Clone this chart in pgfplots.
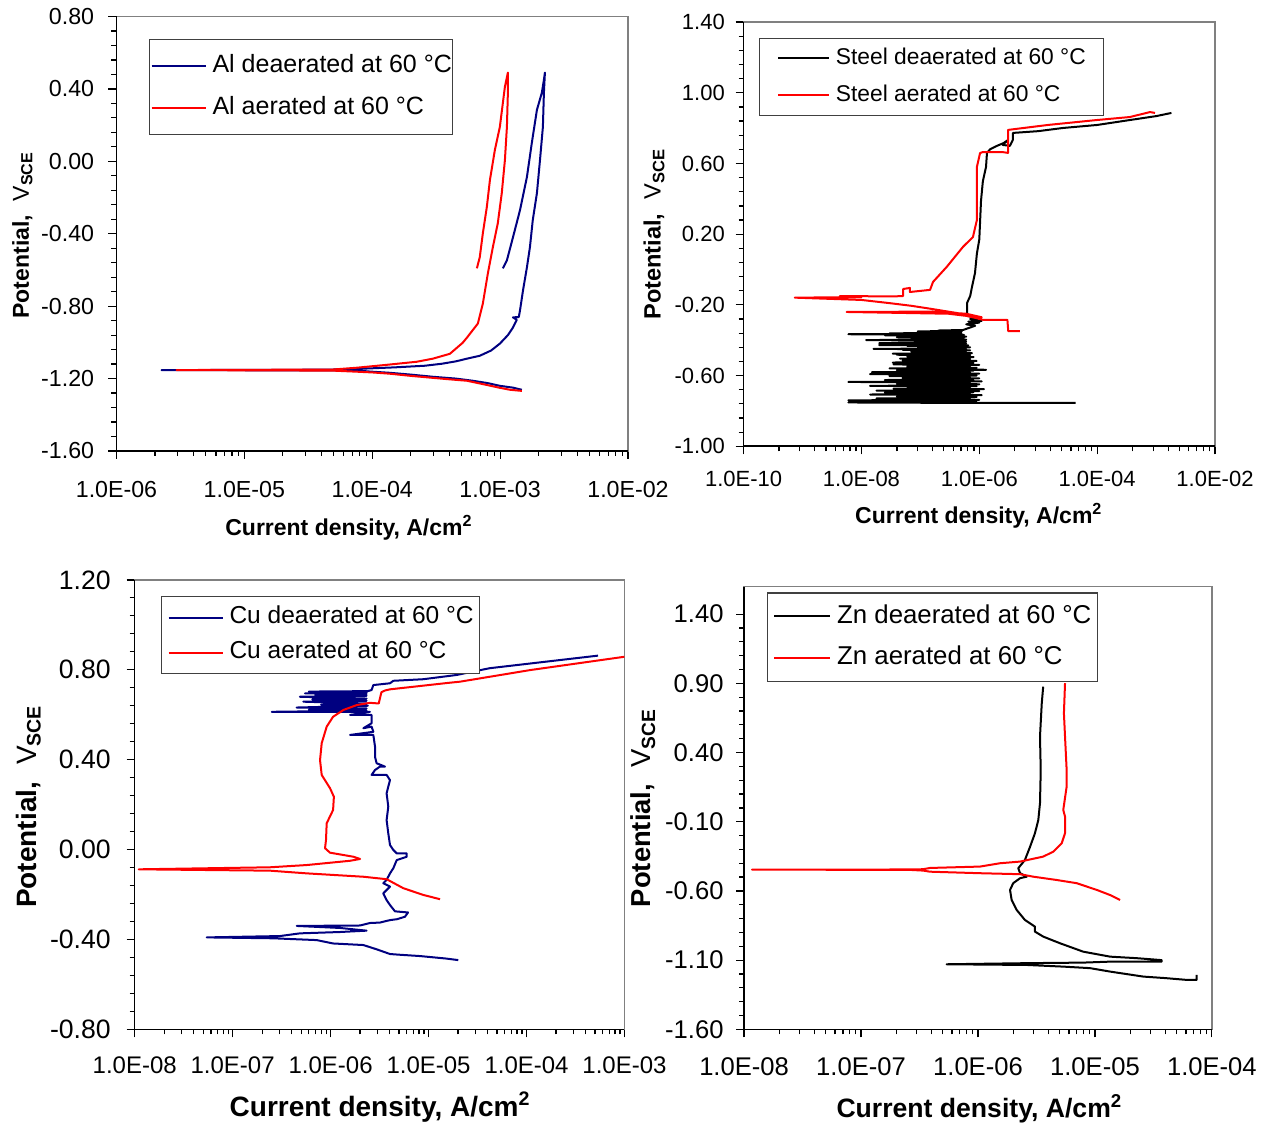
\documentclass[border=0pt]{standalone}
\usepackage{pgfplots}
\pgfplotsset{compat=1.18}
\usepackage{fontspec}
\setmainfont{Liberation Sans}
\definecolor{navyb}{RGB}{0,0,128}
\definecolor{redc}{RGB}{255,0,0}
\newcommand{\ylab}{\textbf{Potential,}\hspace{0.6em}V\textsubscript{\textbf{SCE}}}
\newcommand{\xlab}{\textbf{Current density, A/cm\textsuperscript{2}}}
\begin{document}
\begin{tikzpicture}
\path[use as bounding box] (0,0) rectangle (634.5pt,563pt);
% ---------------- Panel 1: Al ----------------
\pgfplotsset{legend image code/.code={\path (0pt,0pt) -- (3pt,0pt); \draw[#1] (3pt,0pt) -- (27pt,0pt);}}
\begin{axis}[xmode=log, scale only axis, anchor=south west,
  axis line style={draw=gray, line width=0.7pt},
  tick align=outside, tick pos=left, major tick length=4pt, minor tick length=2.5pt,
  tick style={black, line width=0.6pt}, minor y tick num=4, legend cell align=left,
  after end axis/.code={\draw[black, line width=0.8pt] (rel axis cs:0,1) -- (rel axis cs:0,0) -- (rel axis cs:1,0);},
  at={(58.25pt,337.5pt)}, width=255.75pt, height=217.25pt,
  xmin=1e-6, xmax=1e-2, ymin=-1.6, ymax=0.8,
  xtick={1e-6,1e-5,1e-4,1e-3,1e-2},
  xticklabels={1.0E-06,1.0E-05,1.0E-04,1.0E-03,1.0E-02},
  minor xtick={2e-6,3e-6,4e-6,5e-6,6e-6,7e-6,8e-6,9e-6,2e-5,3e-5,4e-5,5e-5,6e-5,7e-5,8e-5,9e-5,2e-4,3e-4,4e-4,5e-4,6e-4,7e-4,8e-4,9e-4,2e-3,3e-3,4e-3,5e-3,6e-3,7e-3,8e-3,9e-3},
  ytick={-1.6,-1.2,-0.8,-0.4,0,0.4,0.8},
  yticklabels={-1.60,-1.20,-0.80,-0.40,0.00,0.40,0.80},
  tick label style={font=\fontsize{11.6}{13}\selectfont},
  xticklabel style={anchor=center, yshift=-15.1pt},
  yticklabel style={anchor=east, inner sep=0pt, xshift=-7pt},
  xlabel={\xlab}, ylabel={\ylab},
  xlabel style={at={(axis description cs:0.4545,-0.177)}, anchor=center, font=\fontsize{11.5}{13}\selectfont},
  ylabel style={at={(axis description cs:-0.184,0.497)}, anchor=center, font=\fontsize{11.5}{13}\selectfont},
  legend style={at={(axis description cs:0.0635,0.949)}, anchor=north west, draw=black!75, line width=0.6pt,
    inner xsep=0.5pt, inner ysep=7.4pt, row sep=9.8pt, column sep=3pt,
    font=\fontsize{12.5}{14}\selectfont, nodes={inner sep=0pt, text height=9pt, text depth=2.6pt}},
]
\addplot[navyb, line width=1pt, no markers, line join=round] coordinates {(1.48e-3,-1.262) (1.26e-3,-1.250) (9.95e-4,-1.240) (8.0e-4,-1.225) (6.12e-4,-1.212) (4.5e-4,-1.200) (2.98e-4,-1.190) (2.0e-4,-1.178) (1.37e-4,-1.168) (1.0e-4,-1.162) (7.98e-5,-1.157) (4.91e-5,-1.155) (2.25e-6,-1.153) (2e-5,-1.152) (4.91e-5,-1.150) (7.98e-5,-1.146) (1.5e-4,-1.138) (2.58e-4,-1.129) (3.5e-4,-1.118) (4.5e-4,-1.105) (5.50e-4,-1.090) (6.93e-4,-1.074) (8.5e-4,-1.045) (9.95e-4,-1.007) (1.15e-3,-0.960) (1.26e-3,-0.918) (1.35e-3,-0.875) (1.26e-3,-0.862) (1.40e-3,-0.860) (1.43e-3,-0.824) (1.51e-3,-0.713) (1.62e-3,-0.586) (1.71e-3,-0.475) (1.80e-3,-0.325) (1.94e-3,-0.176) (2.05e-3,0.007) (2.16e-3,0.190) (2.20e-3,0.379) (2.24e-3,0.49) (2.20e-3,0.45) (2.12e-3,0.379) (1.94e-3,0.284) (1.77e-3,0.102) (1.62e-3,-0.087) (1.43e-3,-0.270) (1.26e-3,-0.420) (1.13e-3,-0.547) (1.05e-3,-0.591)};
\addlegendentry{Al deaerated at 60 °C}
\addplot[redc, line width=1pt, no markers, line join=round] coordinates {(1.48e-3,-1.268) (1.2e-3,-1.262) (9.95e-4,-1.251) (7.5e-4,-1.232) (5.50e-4,-1.212) (4.0e-4,-1.204) (2.98e-4,-1.196) (2.0e-4,-1.185) (1.37e-4,-1.173) (1.0e-4,-1.166) (7.57e-5,-1.162) (4.91e-5,-1.156) (2.95e-6,-1.153) (2e-5,-1.151) (4.91e-5,-1.150) (7.57e-5,-1.140) (1.30e-4,-1.124) (2.23e-4,-1.107) (2.98e-4,-1.090) (4.05e-4,-1.063) (5.10e-4,-1.002) (5.50e-4,-0.974) (6.70e-4,-0.896) (7.33e-4,-0.785) (8.02e-4,-0.619) (8.77e-4,-0.475) (9.59e-4,-0.342) (1.03e-3,-0.176) (1.09e-3,0.007) (1.13e-3,0.190) (1.15e-3,0.379) (1.15e-3,0.49) (1.09e-3,0.412) (9.95e-4,0.190) (9.10e-4,0.063) (8.32e-4,-0.104) (7.87e-4,-0.253) (7.33e-4,-0.397) (6.93e-4,-0.530) (6.58e-4,-0.591)};
\addlegendentry{Al aerated at 60 °C}
\end{axis}
% ---------------- Panel 2: Steel ----------------
\pgfplotsset{legend image code/.code={\path (0pt,0pt) -- (3.85pt,0pt); \draw[#1] (3.85pt,0pt) -- (25.5pt,0pt);}}
\begin{axis}[xmode=log, scale only axis, anchor=south west,
  axis line style={draw=gray, line width=0.7pt},
  tick align=outside, tick pos=left, major tick length=4pt, minor tick length=2.5pt,
  tick style={black, line width=0.6pt}, minor y tick num=4, legend cell align=left,
  after end axis/.code={\draw[black, line width=0.8pt] (rel axis cs:0,1) -- (rel axis cs:0,0) -- (rel axis cs:1,0);},
  at={(371.8pt,339.85pt)}, width=235.7pt, height=212.1pt,
  xmin=1e-10, xmax=1e-2, ymin=-1.0, ymax=1.4,
  xtick={1e-10,1e-8,1e-6,1e-4,1e-2},
  xticklabels={1.0E-10,1.0E-08,1.0E-06,1.0E-04,1.0E-02},
  minor xtick={4e-10,9e-10,1.6e-9,2.5e-9,3.6e-9,4.9e-9,6.4e-9,8.1e-9,4e-8,9e-8,1.6e-7,2.5e-7,3.6e-7,4.9e-7,6.4e-7,8.1e-7,4e-6,9e-6,1.6e-5,2.5e-5,3.6e-5,4.9e-5,6.4e-5,8.1e-5,4e-4,9e-4,1.6e-3,2.5e-3,3.6e-3,4.9e-3,6.4e-3,8.1e-3},
  ytick={-1.0,-0.6,-0.2,0.2,0.6,1.0,1.4},
  yticklabels={-1.00,-0.60,-0.20,0.20,0.60,1.00,1.40},
  tick label style={font=\fontsize{11}{13}\selectfont},
  xticklabel style={anchor=center, yshift=-12.4pt},
  yticklabel style={anchor=east, inner sep=0pt, xshift=-5.2pt},
  xlabel={\xlab}, ylabel={\ylab},
  xlabel style={at={(axis description cs:0.499,-0.164)}, anchor=center, font=\fontsize{11.5}{13}\selectfont},
  ylabel style={at={(axis description cs:-0.190,0.5)}, anchor=center, font=\fontsize{11.8}{13}\selectfont},
  legend style={at={(axis description cs:0.032,0.963)}, anchor=north west, draw=black!75, line width=0.6pt,
    inner xsep=9pt, inner ysep=4.7pt, row sep=7.85pt, column sep=2.8pt,
    font=\fontsize{11.4}{13}\selectfont, nodes={inner sep=0pt, text height=8.2pt, text depth=2.4pt}},
]
\addplot[black, line width=1pt, no markers, line join=round] coordinates {(4.3e-5,-0.755) (2e-6,-0.755) (1.15e-6,-0.755)
(6.0e-9,-0.752) (9e-7,-0.749) (3.0e-8,-0.746) (6e-7,-0.743) (6.0e-9,-0.740) (1.0e-6,-0.737) (8e-8,-0.735) (7e-7,-0.732)
(1.8e-8,-0.729) (5.5e-7,-0.726) (1.0e-7,-0.724) (9e-7,-0.721) (4e-8,-0.718) (6e-7,-0.715) (1.2e-7,-0.713) (1.1e-6,-0.710)
(1.4e-8,-0.707) (7e-7,-0.704) (7e-8,-0.702) (5e-7,-0.699) (2.5e-8,-0.696) (8e-7,-0.693) (1.5e-7,-0.691) (1.0e-6,-0.688)
(1.8e-8,-0.685) (6e-7,-0.682) (9e-8,-0.680) (1.2e-6,-0.677) (3.5e-8,-0.674) (7e-7,-0.671) (1.1e-7,-0.669) (5.5e-7,-0.666)
(6e-8,-0.663) (9e-7,-0.660) (1.4e-8,-0.658) (6e-7,-0.655) (8e-8,-0.652) (1.0e-6,-0.649) (4e-8,-0.647) (7e-7,-0.644)
(1.3e-7,-0.641) (5e-7,-0.638) (6.0e-9,-0.636) (1.1e-6,-0.633) (7e-8,-0.630) (8e-7,-0.627) (2.5e-8,-0.625) (6e-7,-0.622)
(1.0e-7,-0.619) (1.0e-6,-0.616) (5e-8,-0.614) (7e-7,-0.611) (1.5e-7,-0.608) (5.5e-7,-0.605) (3e-8,-0.603) (9e-7,-0.600)
(9e-8,-0.597) (6e-7,-0.594) (1.4e-8,-0.592) (1.0e-6,-0.589) (7e-8,-0.586) (7e-7,-0.583) (1.5e-8,-0.581) (5e-7,-0.578)
(1.1e-7,-0.575) (8e-7,-0.572) (4e-8,-0.570) (1.3e-6,-0.567) (8e-8,-0.564) (6e-7,-0.561) (3e-8,-0.559) (9e-7,-0.556)
(1.2e-7,-0.553) (5.5e-7,-0.550) (6e-8,-0.548) (7e-7,-0.545) (1.5e-7,-0.542) (1.0e-6,-0.539) (3.5e-8,-0.537) (6e-7,-0.534)
(9e-8,-0.531) (8e-7,-0.528) (3.4e-8,-0.526) (5e-7,-0.523) (1.2e-7,-0.520) (9e-7,-0.517) (5e-8,-0.515) (6e-7,-0.512)
(1.4e-7,-0.509) (7e-7,-0.506) (4.5e-8,-0.504) (5.5e-7,-0.501) (1.0e-7,-0.498) (8e-7,-0.495) (6e-8,-0.493) (6e-7,-0.490)
(1.5e-7,-0.487) (7e-7,-0.484) (4e-8,-0.482) (5e-7,-0.479) (3.4e-8,-0.476) (7.5e-7,-0.473) (1.1e-7,-0.471) (6e-7,-0.468)
(7e-8,-0.465) (5e-7,-0.462) (1.3e-7,-0.460) (7e-7,-0.457) (5e-8,-0.454) (6e-7,-0.451) (1.6e-8,-0.449) (5.5e-7,-0.446)
(9e-8,-0.443) (7e-7,-0.440) (1.4e-7,-0.438) (5e-7,-0.435) (6e-8,-0.432) (6.5e-7,-0.429) (2e-8,-0.427) (5e-7,-0.424)
(1.2e-7,-0.421) (6e-7,-0.418) (2e-8,-0.416) (5.5e-7,-0.413) (8e-8,-0.410) (6e-7,-0.407) (1.5e-7,-0.405) (5e-7,-0.402)
(1.2e-8,-0.399) (6e-7,-0.396) (7e-8,-0.394) (5e-7,-0.391) (1.3e-7,-0.388) (5.5e-7,-0.385) (4e-8,-0.383) (6e-7,-0.380)
(1.0e-7,-0.377) (5e-7,-0.374) (2.5e-8,-0.372) (5.5e-7,-0.369) (6.0e-9,-0.366) (5e-7,-0.363) (3e-8,-0.361) (4.5e-7,-0.358)
(1.3e-7,-0.355) (5e-7,-0.352) (9e-8,-0.350) (4.5e-7,-0.347) (2e-7,-0.345) (5.3e-7,-0.342)
(8.5e-7,-0.318) (6e-7,-0.310) (1.0e-6,-0.300) (6.5e-7,-0.295) (1.1e-6,-0.290) (7.0e-7,-0.280) (9.0e-7,-0.272) (6.2e-7,-0.262) (6.2e-7,-0.189) (7.0e-7,-0.150) (7.5e-7,-0.100) (8.45e-7,-0.020) (9.1e-7,0.09) (1.0e-6,0.17) (1.07e-6,0.39) (1.15e-6,0.50) (1.30e-6,0.58) (1.35e-6,0.66) (1.52e-6,0.68) (2.0e-6,0.70) (2.6e-6,0.716) (3.07e-6,0.733) (2.5e-6,0.705) (3.3e-6,0.700) (3.7e-6,0.733) (3.73e-6,0.773) (1.0e-5,0.783) (2.63e-5,0.801) (1.0e-4,0.818) (3.6e-4,0.846) (1.0e-3,0.868) (1.82e-3,0.886)};
\addlegendentry{Steel deaerated at 60 °C}
\addplot[redc, line width=1pt, no markers, line join=round] coordinates {(4.9e-6,-0.348) (3.1e-6,-0.348) (3.0e-6,-0.285) (1.17e-6,-0.285) (9.0e-7,-0.275) (6.0e-7,-0.262) (3.0e-7,-0.250) (5.6e-9,-0.240) (1.5e-7,-0.238) (6.0e-7,-0.250) (1.1e-6,-0.270) (8.0e-7,-0.262) (4.0e-7,-0.245) (1.5e-7,-0.222) (7.0e-8,-0.205) (3.0e-8,-0.190) (1.0e-8,-0.172) (7.4e-10,-0.159) (1.0e-8,-0.156) (4.3e-9,-0.150) (3.4e-8,-0.152) (5.1e-8,-0.150) (5.1e-8,-0.110) (6.65e-8,-0.104) (6.65e-8,-0.127) (1.46e-7,-0.115) (1.64e-7,-0.070) (2.8e-7,0.015) (5.28e-7,0.128) (7.8e-7,0.184) (9.1e-7,0.28) (9.1e-7,0.58) (1.03e-6,0.659) (1.15e-6,0.665) (2.43e-6,0.665) (3.07e-6,0.660) (3.07e-6,0.790) (1.46e-5,0.818) (9.9e-5,0.846) (3.6e-4,0.863) (7.9e-4,0.891) (9.6e-4,0.886)};
\addlegendentry{Steel aerated at 60 °C}
\end{axis}
% ---------------- Panel 3: Cu ----------------
\pgfplotsset{legend image code/.code={\path (0pt,0pt) -- (3.75pt,0pt); \draw[#1] (3.75pt,0pt) -- (27.2pt,0pt);}}
\begin{axis}[xmode=log, scale only axis, anchor=south west,
  axis line style={draw=gray, line width=0.7pt},
  tick align=outside, tick pos=left, major tick length=4pt, minor tick length=2.5pt,
  tick style={black, line width=0.6pt}, minor y tick num=4, legend cell align=left,
  after end axis/.code={\draw[black, line width=0.8pt] (rel axis cs:0,1) -- (rel axis cs:0,0) -- (rel axis cs:1,0);},
  at={(67.35pt,48.35pt)}, width=244.9pt, height=224.7pt,
  xmin=1e-8, xmax=1e-3, ymin=-0.8, ymax=1.2,
  xtick={1e-8,1e-7,1e-6,1e-5,1e-4,1e-3},
  xticklabels={1.0E-08,1.0E-07,1.0E-06,1.0E-05,1.0E-04,1.0E-03},
  minor xtick={2e-8,3e-8,4e-8,5e-8,6e-8,7e-8,8e-8,9e-8,2e-7,3e-7,4e-7,5e-7,6e-7,7e-7,8e-7,9e-7,2e-6,3e-6,4e-6,5e-6,6e-6,7e-6,8e-6,9e-6,2e-5,3e-5,4e-5,5e-5,6e-5,7e-5,8e-5,9e-5,2e-4,3e-4,4e-4,5e-4,6e-4,7e-4,8e-4,9e-4},
  ytick={-0.8,-0.4,0,0.4,0.8,1.2},
  yticklabels={-0.80,-0.40,0.00,0.40,0.80,1.20},
  xticklabel style={anchor=center, yshift=-14.2pt, font=\fontsize{12}{14}\selectfont},
  yticklabel style={anchor=east, inner sep=0pt, xshift=-7.8pt, font=\fontsize{13.3}{15}\selectfont},
  xlabel={\xlab}, ylabel={\ylab},
  xlabel style={at={(axis description cs:0.501,-0.173)}, anchor=center, font=\fontsize{14}{16}\selectfont},
  ylabel style={at={(axis description cs:-0.217,0.496)}, anchor=center, font=\fontsize{14}{16}\selectfont},
  legend style={at={(axis description cs:0.054,0.964)}, anchor=north west, draw=black!75, line width=0.6pt,
    inner xsep=3pt, inner ysep=4.8pt, row sep=6.1pt, column sep=2.7pt,
    font=\fontsize{12.25}{14}\selectfont, nodes={inner sep=0pt, text height=8.8pt, text depth=2.6pt}},
]
\addplot[navyb, line width=1pt, no markers, line join=round] coordinates {(2.01e-5,-0.492) (1.5e-5,-0.485) (8.17e-6,-0.474) (5e-6,-0.468) (4.04e-6,-0.465) (2.95e-6,-0.444) (2.16e-6,-0.425) (1.06e-6,-0.418) (7.21e-7,-0.403) (2.60e-7,-0.395) (5.43e-8,-0.391) (3.04e-7,-0.385) (4.86e-7,-0.373) (1.25e-6,-0.367) (2.33e-6,-0.361) (1.25e-6,-0.349) (4.51e-7,-0.340) (2.0e-6,-0.338) (2.52e-6,-0.327) (3.19e-6,-0.325) (4.04e-6,-0.314) (4.76e-6,-0.310) (5.74e-6,-0.299) (6.17e-6,-0.280) (4.54e-6,-0.275) (4.04e-6,-0.247) (3.73e-6,-0.225) (3.45e-6,-0.195) (4.04e-6,-0.165) (3.45e-6,-0.150) (3.73e-6,-0.135) (4.04e-6,-0.106) (4.37e-6,-0.083) (4.73e-6,-0.047) (5.98e-6,-0.032) (5.98e-6,-0.017) (4.73e-6,-0.017) (4.37e-6,-0.002) (4.04e-6,0.020) (3.88e-6,0.072) (3.73e-6,0.131) (3.88e-6,0.191) (3.73e-6,0.250) (3.88e-6,0.280) (4.04e-6,0.309) (3.73e-6,0.332) (2.62e-6,0.332) (2.84e-6,0.354) (3.19e-6,0.369) (3.59e-6,0.369) (2.95e-6,0.384) (2.84e-6,0.413) (2.84e-6,0.458) (2.73e-6,0.510) (1.58e-6,0.510) (2.73e-6,0.524) (2.62e-6,0.547) (2.16e-6,0.540) (2.62e-6,0.562) (2.62e-6,0.599) (1.58e-6,0.599) (2.52e-6,0.613) (2.51e-7,0.613) (2.33e-6,0.618) (6.0e-7,0.622) (2.33e-6,0.628) (4.5e-7,0.632) (2.4e-6,0.640) (8e-7,0.645) (2.33e-6,0.650) (5.26e-7,0.658) (2.33e-6,0.662) (6.5e-7,0.668) (2.33e-6,0.672) (4.86e-7,0.680) (2.33e-6,0.684) (7e-7,0.688) (2.33e-6,0.692) (5.47e-7,0.695) (2.33e-6,0.699) (6e-7,0.703) (2.4e-6,0.705) (2.62e-6,0.710) (2.73e-6,0.732) (4.04e-6,0.740) (4.37e-6,0.751) (8.83e-6,0.758) (1.94e-5,0.777) (4.2e-5,0.807) (5.37e-4,0.863)};
\addlegendentry{Cu deaerated at 60 °C}
\addplot[redc, line width=1pt, no markers, line join=round] coordinates {(1.31e-5,-0.221) (8.83e-6,-0.202) (5.52e-6,-0.172) (3.73e-6,-0.132) (2.16e-6,-0.121) (5.70e-7,-0.106) (2.40e-7,-0.094) (1.10e-8,-0.088) (2.40e-7,-0.079) (5.70e-7,-0.069) (1.58e-6,-0.050) (2.0e-6,-0.042) (1.71e-6,-0.032) (9.86e-7,-0.014) (8.77e-7,0.006) (8.97e-7,0.042) (9.12e-7,0.117) (1.06e-6,0.176) (1.08e-6,0.235) (9.86e-7,0.273) (8.11e-7,0.332) (7.80e-7,0.398) (8.11e-7,0.473) (9.12e-7,0.547) (1.06e-6,0.591) (1.35e-6,0.621) (1.85e-6,0.643) (2.52e-6,0.653) (3.1e-6,0.650) (3.3e-6,0.700) (3.6e-6,0.708) (4.04e-6,0.713) (1.61e-5,0.742) (2.09e-5,0.747) (1.10e-4,0.799) (1e-3,0.858)};
\addlegendentry{Cu aerated at 60 °C}
\end{axis}
% ---------------- Panel 4: Zn ----------------
\pgfplotsset{legend image code/.code={\path (0pt,0pt) -- (4.15pt,0pt); \draw[#1] (4.15pt,0pt) -- (28.15pt,0pt);}}
\begin{axis}[xmode=log, scale only axis, anchor=south west,
  axis line style={draw=gray, line width=0.7pt},
  tick align=outside, tick pos=left, major tick length=4pt, minor tick length=2.5pt,
  tick style={black, line width=0.6pt}, minor y tick num=4, legend cell align=left,
  after end axis/.code={\draw[black, line width=0.8pt] (rel axis cs:0,1) -- (rel axis cs:0,0) -- (rel axis cs:1,0);},
  at={(372.05pt,48.35pt)}, width=233.9pt, height=221.4pt,
  xmin=1e-8, xmax=1e-4, ymin=-1.6, ymax=1.6,
  xtick={1e-8,1e-7,1e-6,1e-5,1e-4},
  xticklabels={1.0E-08,1.0E-07,1.0E-06,1.0E-05,1.0E-04},
  minor xtick={2e-8,3e-8,4e-8,5e-8,6e-8,7e-8,8e-8,9e-8,2e-7,3e-7,4e-7,5e-7,6e-7,7e-7,8e-7,9e-7,2e-6,3e-6,4e-6,5e-6,6e-6,7e-6,8e-6,9e-6,2e-5,3e-5,4e-5,5e-5,6e-5,7e-5,8e-5,9e-5},
  ytick={-1.6,-1.1,-0.6,-0.1,0.4,0.9,1.4},
  yticklabels={-1.60,-1.10,-0.60,-0.10,0.40,0.90,1.40},
  tick label style={font=\fontsize{12.8}{15}\selectfont},
  xticklabel style={anchor=center, yshift=-14.6pt},
  yticklabel style={anchor=east, inner sep=0pt, xshift=-6.1pt},
  xlabel={\xlab}, ylabel={\ylab},
  xlabel style={at={(axis description cs:0.503,-0.179)}, anchor=center, font=\fontsize{13.3}{15}\selectfont},
  ylabel style={at={(axis description cs:-0.216,0.5)}, anchor=center, font=\fontsize{13.7}{15}\selectfont},
  legend style={at={(axis description cs:0.048,0.9865)}, anchor=north west, draw=black!75, line width=0.6pt,
    inner xsep=3pt, inner ysep=5.7pt, row sep=8.8pt, column sep=2.85pt,
    font=\fontsize{12.9}{15}\selectfont, nodes={inner sep=0pt, text height=9.3pt, text depth=2.7pt}},
]
\addplot[black, line width=1pt, no markers, line join=round] coordinates {(7.41e-5,-1.207) (7.41e-5,-1.243) (6.10e-5,-1.243) (4.0e-5,-1.230) (2.59e-5,-1.219) (1.35e-5,-1.183) (9.08e-6,-1.158) (5.36e-6,-1.147) (2.61e-6,-1.135) (5.40e-7,-1.130) (2.61e-6,-1.122) (7.94e-6,-1.118) (1.35e-5,-1.111) (3.72e-5,-1.111) (3.72e-5,-1.100) (2.28e-5,-1.086) (1.35e-5,-1.075) (7.94e-6,-1.039) (5.02e-6,-0.978) (3.61e-6,-0.930) (3.07e-6,-0.894) (3.07e-6,-0.858) (2.52e-6,-0.810) (2.14e-6,-0.737) (1.94e-6,-0.665) (1.88e-6,-0.593) (2.0e-6,-0.544) (2.29e-6,-0.508) (2.61e-6,-0.497) (2.29e-6,-0.472) (2.21e-6,-0.436) (2.52e-6,-0.376) (2.79e-6,-0.280) (3.07e-6,-0.183) (3.28e-6,-0.087) (3.39e-6,0.034) (3.44e-6,0.274) (3.39e-6,0.515) (3.51e-6,0.756) (3.61e-6,0.876)};
\addlegendentry{Zn deaerated at 60 °C}
\addplot[redc, line width=1pt, no markers, line join=round] coordinates {(1.64e-5,-0.665) (1.35e-5,-0.630) (1.04e-5,-0.593) (6.98e-6,-0.544) (4.71e-6,-0.521) (2.97e-6,-0.497) (2.29e-6,-0.479) (1.04e-6,-0.472) (3.89e-7,-0.461) (3.40e-7,-0.453) (2.62e-7,-0.448) (1.17e-8,-0.446) (2.62e-7,-0.445) (3.40e-7,-0.443) (3.89e-7,-0.434) (1.04e-6,-0.424) (1.54e-6,-0.400) (2.29e-6,-0.388) (3.61e-6,-0.352) (4.41e-6,-0.316) (5.20e-6,-0.255) (5.55e-6,-0.183) (5.55e-6,-0.063) (5.36e-6,-0.015) (5.73e-6,0.154) (5.73e-6,0.274) (5.55e-6,0.515) (5.43e-6,0.684) (5.55e-6,0.901)};
\addlegendentry{Zn aerated at 60 °C}
\end{axis}
\end{tikzpicture}
\end{document}
